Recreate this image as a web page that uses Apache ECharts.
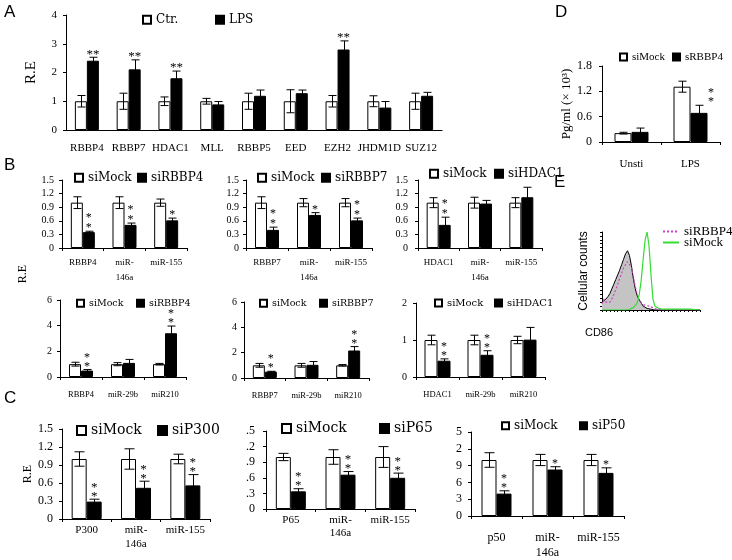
<!DOCTYPE html>
<html>
<head>
<meta charset="utf-8">
<script src="https://cdn.jsdelivr.net/npm/echarts@6/dist/echarts.min.js"></script>
<style>
  html, body { margin: 0; padding: 0; background: #fff; }
  #chart { width: 732px; height: 560px; }
</style>
</head>
<body>
<div id="chart"></div>
<script>
// ---- data ----
// A
var aCats = ['RBBP4', 'RBBP7', 'HDAC1', 'MLL', 'RBBP5', 'EED', 'EZH2', 'JHDM1D', 'SUZ12'];
var aCtr = [1, 1, 1, 1, 1, 1, 1, 1, 1];
var aCtrErr = [0.2, 0.28, 0.15, 0.1, 0.28, 0.4, 0.2, 0.19, 0.28];
var aLps = [2.41, 2.11, 1.8, 0.89, 1.19, 1.28, 2.8, 0.78, 1.19];
var aLpsErr = [0.12, 0.33, 0.25, 0.1, 0.2, 0.11, 0.3, 0.21, 0.12];
var aStars = ['**', '**', '**', '', '', '', '**', '', ''];

// D
var dCats = ['Unsti', 'LPS'];
var dMock = [0.21, 1.31];
var dMockErr = [0.02, 0.13];
var dSi = [0.24, 0.69];
var dSiErr = [0.09, 0.18];
var dStars = ['', '*\n*'];

// B row 1
var b1Cats = ['RBBP4', 'miR-\n146a', 'miR-155'];
var b1Mock = [1, 1, 1];
var b1MockErr = [0.13, 0.13, 0.08];
var b1Si = [0.35, 0.51, 0.61];
var b1SiErr = [0.02, 0.04, 0.05];
var b1Stars = ['*\n*', '*\n*', '*'];

var b2Cats = ['RBBP7', 'miR-\n146a', 'miR-155'];
var b2Mock = [1, 1, 1];
var b2MockErr = [0.13, 0.09, 0.09];
var b2Si = [0.4, 0.73, 0.61];
var b2SiErr = [0.06, 0.05, 0.05];
var b2Stars = ['*\n*', '*', '*\n*'];

var b3Cats = ['HDAC1', 'miR-\n146a', 'miR-155'];
var b3Mock = [1, 1, 1];
var b3MockErr = [0.11, 0.12, 0.11];
var b3Si = [0.51, 0.98, 1.12];
var b3SiErr = [0.17, 0.07, 0.22];
var b3Stars = ['*\n*', '', ''];

// B row 2
var b4Cats = ['RBBP4', 'miR-29b', 'miR210'];
var b4Mock = [1, 1, 1];
var b4MockErr = [0.15, 0.12, 0.06];
var b4Si = [0.5, 1.1, 3.41];
var b4SiErr = [0.08, 0.27, 0.56];
var b4Stars = ['*\n*', '', '*\n*'];

var b5Cats = ['RBBP7', 'miR-29b', 'miR210'];
var b5Mock = [1, 1, 1];
var b5MockErr = [0.15, 0.15, 0.06];
var b5Si = [0.5, 1.04, 2.17];
var b5SiErr = [0.03, 0.26, 0.31];
var b5Stars = ['*\n*', '', '*\n*'];

var b6Cats = ['HDAC1', 'miR-29b', 'miR210'];
var b6Mock = [1, 1, 1];
var b6MockErr = [0.13, 0.13, 0.1];
var b6Si = [0.44, 0.6, 1.01];
var b6SiErr = [0.05, 0.11, 0.33];
var b6Stars = ['*\n*', '*\n*', ''];

// C
var c1Cats = ['P300', 'miR-\n146a', 'miR-155'];
var c1Mock = [1, 1, 1];
var c1MockErr = [0.12, 0.17, 0.08];
var c1Si = [0.29, 0.52, 0.56];
var c1SiErr = [0.04, 0.11, 0.18];
var c1Stars = ['*\n*', '*\n*', '*\n*'];

var c2Cats = ['P65', 'miR-\n146a', 'miR-155'];
var c2Mock = [1, 1, 1];
var c2MockErr = [0.07, 0.14, 0.2];
var c2Si = [0.34, 0.66, 0.6];
var c2SiErr = [0.05, 0.06, 0.09];
var c2Stars = ['*\n*', '*\n*', '*\n*'];
var c2TickLabels = ['0', '.3', '.6', '.9', '.2', '.5'];

var c3Cats = ['p50', 'miR-\n146a', 'miR-155'];
var c3Mock = [10, 10, 10];
var c3MockErr = [1.3, 1.0, 1.0];
var c3Si = [4.0, 8.3, 7.7];
var c3SiErr = [0.5, 0.5, 0.9];
var c3Stars = ['*\n*', '*', '*'];
var c3TickLabels = ['0', '3', '6', '9', '2', '5'];

// E (flow histogram, channel position vs counts)
var eBins = [0, 2, 4, 6, 8, 10, 12, 14, 16, 18, 20, 22, 24, 26, 28, 30, 32, 34, 36, 38, 40, 42, 44, 46, 48, 50, 52, 54, 56, 58, 60, 62, 64, 70, 80, 90, 100];
var eIso = [10, 12, 14, 17, 21, 27, 33, 39, 45, 51, 58, 65, 72, 76, 70, 57, 40, 27, 18, 13, 9, 5, 3, 2, 1, 1, 0, 0, 0, 0, 0, 0, 0, 0, 0, 0, 0];
var eRbbp4 = [8, 14, 10, 8, 10, 14, 20, 26, 33, 40, 47, 54, 58, 62, 64, 55, 42, 30, 20, 13, 9, 7, 6, 5, 5, 4, 3, 2, 1, 1, 0, 0, 0, 0, 0, 0, 0];
var eMock = [0, 0, 0, 0, 0, 0, 0, 0, 0, 0, 0, 0, 0, 0, 1, 2, 3, 5, 9, 20, 38, 65, 90, 100, 82, 45, 14, 5, 3, 2, 1, 1, 1, 1, 1, 1, 0];

// ---- chart building ----
var serif = '"Liberation Serif", "Times New Roman", serif';
var wide = '"DejaVu Serif", serif';
var sans = '"Liberation Sans", Arial, sans-serif';

var grids = [], xAxes = [], yAxes = [], series = [], legends = [];

function errSeries(gi, vals, errs, dx, cap) {
  return {
    type: 'custom', xAxisIndex: gi, yAxisIndex: gi, silent: true, z: 5,
    data: vals.map(function (v, i) { return [i, v, errs[i]]; }),
    renderItem: function (params, api) {
      var i = api.value(0), v = api.value(1), e = api.value(2);
      var hi = api.coord([i, v + e]), lo = api.coord([i, v - e]);
      var x = Math.round(hi[0] + dx) + 0.5;
      var st = { stroke: '#000', lineWidth: 1 };
      return { type: 'group', children: [
        { type: 'line', shape: { x1: x, y1: hi[1], x2: x, y2: lo[1] }, style: st },
        { type: 'line', shape: { x1: x - cap, y1: hi[1], x2: x + cap, y2: hi[1] }, style: st },
        { type: 'line', shape: { x1: x - cap, y1: lo[1], x2: x + cap, y2: lo[1] }, style: st }
      ] };
    }
  };
}

function starSeries(gi, vals, errs, stars, dx, size, lh) {
  return {
    type: 'custom', xAxisIndex: gi, yAxisIndex: gi, silent: true, z: 6,
    data: vals.map(function (v, i) { return [i, v, errs[i]]; }),
    renderItem: function (params, api) {
      var i = api.value(0);
      if (!stars[i]) return null;
      var p = api.coord([i, api.value(1) + api.value(2)]);
      return {
        type: 'text', x: p[0] + dx, y: p[1] - 3 + lh / 2,
        style: { text: stars[i], fill: '#000', font: size + 'px ' + serif,
                 align: 'center', verticalAlign: 'bottom', lineHeight: lh }
      };
    }
  };
}

function addLegend(name, left, cy, font, size, icon) {
  legends.push({
    data: [{ name: name, icon: 'rect' }], left: left, top: cy - size * 0.6,
    padding: 0, itemGap: 0, itemWidth: icon, itemHeight: icon, selectedMode: false,
    textStyle: { fontFamily: font, fontSize: size, color: '#000' }
  });
}

function addPanel(p) {
  var gi = grids.length;
  grids.push({ left: p.left, top: p.top, width: p.width, height: p.height });
  xAxes.push({
    type: 'category', gridIndex: gi, data: p.cats,
    axisLine: { lineStyle: { color: '#000', width: 1 } },
    axisTick: { show: p.xTick !== false, length: 3, lineStyle: { color: '#000' } },
    axisLabel: { color: '#000', fontFamily: p.catFont, fontSize: p.catSize, margin: p.catMargin,
                 lineHeight: p.catLH || p.catSize + 3, interval: 0 }
  });
  yAxes.push({
    type: 'value', gridIndex: gi, min: 0, max: p.max, interval: p.step,
    splitLine: { show: false },
    axisLine: { show: true, lineStyle: { color: '#000' } },
    axisTick: { show: true, length: 3, lineStyle: { color: '#000' } },
    axisLabel: { color: '#000', fontFamily: serif, fontSize: p.tickSize, margin: p.tickMargin,
                 formatter: p.tickFmt },
    name: p.yName || '', nameLocation: 'middle', nameGap: p.yNameGap, nameRotate: 90,
    nameTextStyle: { color: '#000', fontFamily: serif, fontSize: p.yNameSize || 13 }
  });
  series.push({ type: 'bar', name: p.names[0], xAxisIndex: gi, yAxisIndex: gi, data: p.a,
    barWidth: p.bw, barGap: '0%', silent: true,
    itemStyle: { color: '#fff', borderColor: '#000', borderWidth: 1 } });
  series.push({ type: 'bar', name: p.names[1], xAxisIndex: gi, yAxisIndex: gi, data: p.b,
    barWidth: p.bw, barGap: '0%', silent: true,
    itemStyle: { color: '#000', borderColor: '#000', borderWidth: 1 } });
  series.push(errSeries(gi, p.a, p.aErr, -p.bw / 2, p.cap));
  series.push(errSeries(gi, p.b, p.bErr, p.bw / 2, p.cap));
  series.push(starSeries(gi, p.b, p.bErr, p.stars, p.bw / 2 + (p.starDx || 0), p.starSize, p.starLH));
  var lg = p.legend;
  addLegend(p.names[0], lg[0], lg[2], lg[3], lg[4], lg[5]);
  addLegend(p.names[1], lg[1], lg[2], lg[3], lg[4], lg[5]);
}

// A
addPanel({ left: 66, top: 15, width: 376, height: 115, max: 4, step: 1, cats: aCats,
  catFont: serif, catSize: 11, catMargin: 11, tickSize: 11, tickMargin: 9, xTick: false,
  yName: 'R.E', yNameGap: 27, yNameSize: 15,
  names: ['Ctr.', 'LPS'], a: aCtr, aErr: aCtrErr, b: aLps, bErr: aLpsErr, stars: aStars,
  bw: 12, cap: 4, starSize: 13, starLH: 13, legend: [142, 215, 21, wide, 12, 8] });

// D
addPanel({ left: 602, top: 66, width: 118, height: 76, max: 1.8, step: 0.6, cats: dCats,
  catFont: serif, catSize: 11, catMargin: 15, tickSize: 12, tickMargin: 10,
  yName: 'Pg/ml (× 10³)', yNameGap: 25, yNameSize: 13,
  names: ['siMock', 'sRBBP4'], a: dMock, aErr: dMockErr, b: dSi, bErr: dSiErr, stars: dStars,
  bw: 17, cap: 4, starSize: 12, starLH: 9, starDx: 12, legend: [619, 672, 58, serif, 11, 7] });

// B row 1
addPanel({ left: 62, top: 180, width: 125, height: 68, max: 1.5, step: 0.3, cats: b1Cats,
  catFont: serif, catSize: 9, catMargin: 7, catLH: 15, tickSize: 10, tickMargin: 8,
  names: ['siMock', 'siRBBP4'], a: b1Mock, aErr: b1MockErr, b: b1Si, bErr: b1SiErr, stars: b1Stars,
  bw: 12, cap: 4, starSize: 12, starLH: 10, legend: [74, 137, 179, wide, 12, 8] });
addPanel({ left: 246, top: 180, width: 126, height: 68, max: 1.5, step: 0.3, cats: b2Cats,
  catFont: serif, catSize: 9, catMargin: 7, catLH: 15, tickSize: 10, tickMargin: 7,
  names: ['siMock', 'siRBBP7'], a: b2Mock, aErr: b2MockErr, b: b2Si, bErr: b2SiErr, stars: b2Stars,
  bw: 12, cap: 4, starSize: 12, starLH: 10, legend: [257, 321, 179, wide, 12, 8] });
addPanel({ left: 418, top: 180, width: 124, height: 68, max: 1.5, step: 0.3, cats: b3Cats,
  catFont: serif, catSize: 9, catMargin: 7, catLH: 15, tickSize: 10, tickMargin: 10,
  names: ['siMock', 'siHDAC1'], a: b3Mock, aErr: b3MockErr, b: b3Si, bErr: b3SiErr, stars: b3Stars,
  bw: 12, cap: 4, starSize: 12, starLH: 10, legend: [429, 494, 175, wide, 12, 8] });

// B row 2
addPanel({ left: 60, top: 300, width: 126, height: 77, max: 6, step: 2, cats: b4Cats,
  catFont: serif, catSize: 8.5, catMargin: 12, tickSize: 10, tickMargin: 8,
  names: ['siMock', 'siRBBP4'], a: b4Mock, aErr: b4MockErr, b: b4Si, bErr: b4SiErr, stars: b4Stars,
  bw: 12, cap: 4, starSize: 12, starLH: 9, legend: [76, 136, 304, wide, 9.5, 7] });
addPanel({ left: 244, top: 302, width: 125, height: 76, max: 6, step: 2, cats: b5Cats,
  catFont: serif, catSize: 8.5, catMargin: 12, tickSize: 10, tickMargin: 7,
  names: ['siMock', 'siRBBP7'], a: b5Mock, aErr: b5MockErr, b: b5Si, bErr: b5SiErr, stars: b5Stars,
  bw: 12, cap: 4, starSize: 12, starLH: 9, legend: [259, 319, 304, wide, 9.5, 7] });
addPanel({ left: 416, top: 303, width: 129, height: 74, max: 2, step: 1, cats: b6Cats,
  catFont: serif, catSize: 8.5, catMargin: 12, tickSize: 10, tickMargin: 9,
  names: ['siMock', 'siHDAC1'], a: b6Mock, aErr: b6MockErr, b: b6Si, bErr: b6SiErr, stars: b6Stars,
  bw: 13, cap: 4, starSize: 12, starLH: 9, legend: [434, 494, 304, wide, 10, 7] });

// C
addPanel({ left: 62, top: 429, width: 148, height: 90, max: 1.5, step: 0.3, cats: c1Cats,
  catFont: serif, catSize: 11, catMargin: 4, catLH: 14, tickSize: 12, tickMargin: 9,
  yName: 'R.E', yNameGap: 27, yNameSize: 12,
  names: ['siMock', 'siP300'], a: c1Mock, aErr: c1MockErr, b: c1Si, bErr: c1SiErr, stars: c1Stars,
  bw: 15, cap: 5, starSize: 13, starLH: 9, legend: [76, 157, 432, wide, 14, 9] });
addPanel({ left: 266, top: 431, width: 149, height: 78, max: 1.5, step: 0.3, cats: c2Cats,
  catFont: serif, catSize: 11, catMargin: 5, catLH: 13, tickSize: 12, tickMargin: 11,
  tickFmt: function (v) { return c2TickLabels[Math.round(v / 0.3)]; },
  names: ['siMock', 'siP65'], a: c2Mock, aErr: c2MockErr, b: c2Si, bErr: c2SiErr, stars: c2Stars,
  bw: 15, cap: 5, starSize: 13, starLH: 9, legend: [281, 379, 430, wide, 14, 9] });
addPanel({ left: 471, top: 432, width: 153, height: 85, max: 15, step: 3, cats: c3Cats,
  catFont: serif, catSize: 12, catMargin: 14, catLH: 15, tickSize: 12, tickMargin: 9,
  tickFmt: function (v) { return c3TickLabels[Math.round(v / 3)]; },
  names: ['siMock', 'siP50'], a: c3Mock, aErr: c3MockErr, b: c3Si, bErr: c3SiErr, stars: c3Stars,
  bw: 15, cap: 5, starSize: 12, starLH: 9, legend: [501, 579, 427, wide, 12, 7] });

// E histogram
var eg = grids.length;
grids.push({ left: 602, top: 232, width: 98, height: 78 });
xAxes.push({ type: 'value', gridIndex: eg, min: 0, max: 100, interval: 4,
  axisLine: { lineStyle: { color: '#000' } }, axisLabel: { show: false },
  axisTick: { show: true, length: 2, lineStyle: { color: '#000' } }, splitLine: { show: false } });
yAxes.push({ type: 'value', gridIndex: eg, min: 0, max: 100, interval: 5,
  axisLine: { show: true, lineStyle: { color: '#000' } }, axisLabel: { show: false },
  axisTick: { show: true, length: 2, lineStyle: { color: '#000' } }, splitLine: { show: false },
  name: 'Cellular counts', nameLocation: 'middle', nameGap: 12, nameRotate: 90,
  nameTextStyle: { color: '#000', fontFamily: sans, fontSize: 12 } });
function pairs(ys) { return eBins.map(function (x, i) { return [x, ys[i]]; }); }
series.push({ type: 'line', name: 'iso', xAxisIndex: eg, yAxisIndex: eg, data: pairs(eIso),
  symbol: 'none', silent: true, lineStyle: { color: '#000', width: 1 },
  areaStyle: { color: '#c4c4c4', opacity: 1 }, z: 2 });
series.push({ type: 'line', name: 'E-siRBBP4', xAxisIndex: eg, yAxisIndex: eg, data: pairs(eRbbp4),
  symbol: 'none', silent: true, itemStyle: { color: '#d23cc8' },
  lineStyle: { color: '#d23cc8', width: 1.2, type: [2, 2] }, z: 3 });
series.push({ type: 'line', name: 'E-siMock', xAxisIndex: eg, yAxisIndex: eg, data: pairs(eMock),
  symbol: 'none', silent: true, itemStyle: { color: '#33dd33' },
  lineStyle: { color: '#33dd33', width: 1.2 }, z: 4 });
['E-siRBBP4', 'E-siMock'].forEach(function (n, k) {
  legends.push({ data: [n], left: 662, top: 225 + k * 11, padding: 0, itemWidth: 16, itemHeight: 8,
    selectedMode: false, formatter: function (s) { return s.slice(2); },
    itemStyle: { color: 'rgba(0,0,0,0)', borderWidth: 0 },
    textStyle: { fontFamily: serif, fontSize: 13, color: '#000' } });
});

var chart = echarts.init(document.getElementById('chart'), null, { renderer: 'canvas' });
chart.setOption({
  animation: false,
  backgroundColor: '#fff',
  grid: grids, xAxis: xAxes, yAxis: yAxes, legend: legends, series: series,
  graphic: [
    { type: 'text', left: 4, top: 4, style: { text: 'A', font: '17px ' + sans, fill: '#000' } },
    { type: 'text', left: 4, top: 157, style: { text: 'B', font: '17px ' + sans, fill: '#000' } },
    { type: 'text', left: 4, top: 390, style: { text: 'C', font: '17px ' + sans, fill: '#000' } },
    { type: 'text', left: 555, top: 4, style: { text: 'D', font: '17px ' + sans, fill: '#000' } },
    { type: 'text', left: 554, top: 174, style: { text: 'E', font: '17px ' + sans, fill: '#000' } },
    { type: 'text', x: 23, y: 274, rotation: Math.PI / 2,
      style: { text: 'R.E', font: '12px ' + serif, fill: '#000', align: 'center', verticalAlign: 'middle' } },
    { type: 'text', x: 599, y: 333,
      style: { text: 'CD86', font: '11px ' + sans, fill: '#000', align: 'center', verticalAlign: 'middle' } }
  ]
});
</script>
</body>
</html>
